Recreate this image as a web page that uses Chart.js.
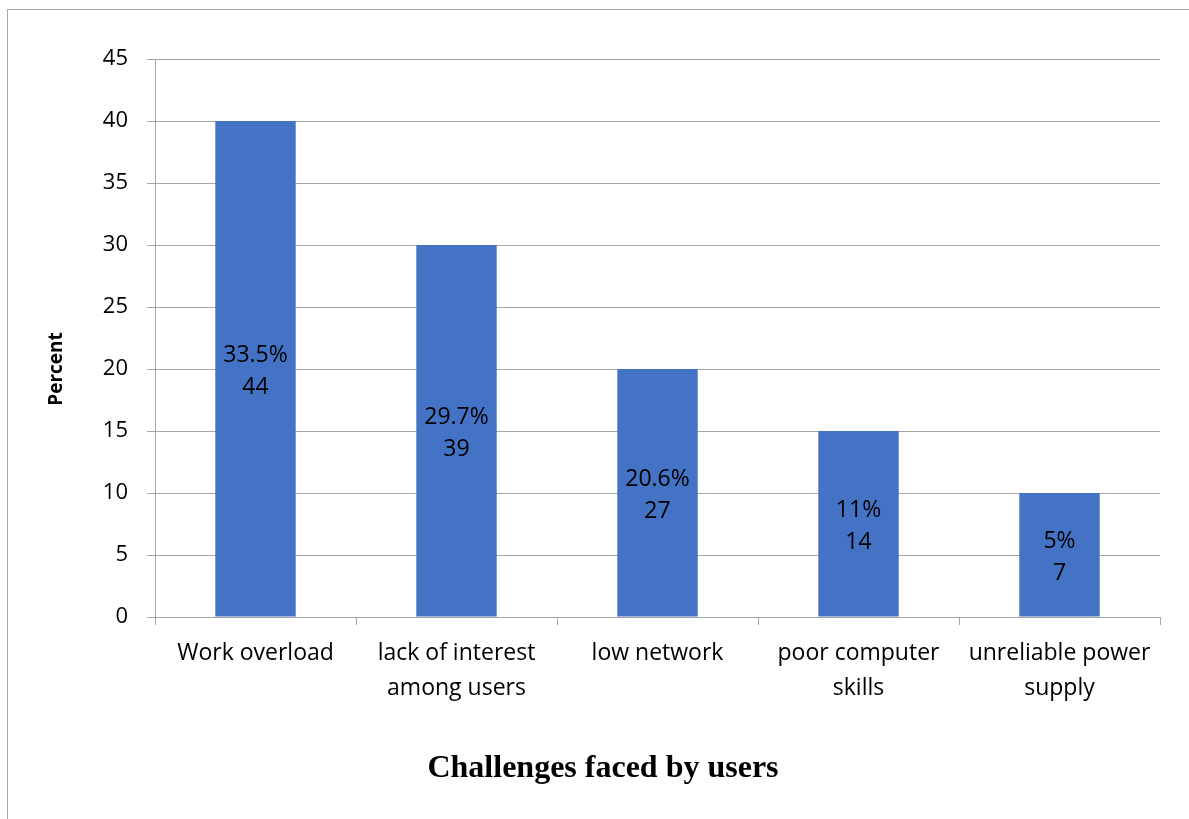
<!DOCTYPE html>
<html>
<head>
<meta charset="utf-8">
<script src="https://cdn.jsdelivr.net/npm/chart.js@4.4.1/dist/chart.umd.min.js"></script>
<style>
  html, body { margin: 0; padding: 0; background: #fff; }
  #wrap { position: relative; width: 1189px; height: 819px; overflow: hidden; }
  #frame { position: absolute; left: 7px; top: 9px; width: 1300px; height: 900px; border: 1px solid #a6a6a6; }
  canvas { position: absolute; left: 0; top: 0; }
</style>
</head>
<body>
<div id="wrap">
  <div id="frame"></div>
  <canvas id="chart" width="1189" height="819"></canvas>
</div>
<script>
const categories = [
  'Work overload',
  ['lack of interest', 'among users'],
  'low network',
  ['poor computer', 'skills'],
  ['unreliable power', 'supply']
];
const values = [40, 30, 20, 15, 10];
const percentLabels = ['33.5%', '29.7%', '20.6%', '11%', '5%'];
const countLabels = ['44', '39', '27', '14', '7'];

const FONT = '"Open Sans", Lato, sans-serif';
const GRID = '#a6a6a6';

// two-line value label in the middle of each bar
const barLabels = {
  id: 'barLabels',
  afterDatasetsDraw(chart) {
    const ctx = chart.ctx;
    const meta = chart.getDatasetMeta(0);
    ctx.save();
    ctx.fillStyle = '#000';
    ctx.font = '23px ' + FONT;
    ctx.textAlign = 'center';
    ctx.textBaseline = 'middle';
    meta.data.forEach((bar, i) => {
      const { x, y, base } = bar.getProps(['x', 'y', 'base'], true);
      const mid = (y + base) / 2;
      ctx.fillText(percentLabels[i], x, mid - 13);
      ctx.fillText(countLabels[i], x, mid + 19);
    });
    ctx.restore();
  }
};

// axis captions
const captions = {
  id: 'captions',
  afterDraw(chart) {
    const ctx = chart.ctx;
    ctx.save();
    ctx.fillStyle = '#000';
    ctx.textAlign = 'center';
    ctx.textBaseline = 'middle';
    ctx.font = 'bold 32px "Liberation Serif", "Times New Roman", serif';
    ctx.fillText('Challenges faced by users', 603, 769);
    ctx.translate(57, 369);
    ctx.rotate(-Math.PI / 2);
    ctx.font = 'bold 19px ' + FONT;
    ctx.fillText('Percent', 0, 0);
    ctx.restore();
  }
};

new Chart(document.getElementById('chart'), {
  type: 'bar',
  data: {
    labels: categories,
    datasets: [{
      data: values,
      backgroundColor: '#4472c4',
      borderWidth: 0,
      categoryPercentage: 1,
      barPercentage: 0.4
    }]
  },
  options: {
    responsive: false,
    animation: false,
    layout: { padding: { left: 0, top: 59, right: 29, bottom: 0 } },
    plugins: {
      legend: { display: false },
      tooltip: { enabled: false }
    },
    scales: {
      x: {
        offset: true,
        afterFit(scale) { scale.height = 202; },
        grid: {
          offset: true,
          drawOnChartArea: false,
          drawTicks: true,
          tickLength: 8,
          color: GRID
        },
        border: { color: GRID, width: 1 },
        ticks: {
          color: '#000',
          padding: 11,
          maxRotation: 0,
          font: { family: FONT, size: 23, lineHeight: 1.52 }
        }
      },
      y: {
        min: 0,
        max: 45,
        afterFit(scale) { scale.width = 155; },
        grid: {
          color: GRID,
          drawTicks: true,
          tickLength: 8
        },
        border: { color: GRID, width: 1 },
        ticks: {
          stepSize: 5,
          color: '#000',
          padding: 19,
          font: { family: FONT, size: 22 }
        }
      }
    }
  },
  plugins: [barLabels, captions]
});
</script>
</body>
</html>
